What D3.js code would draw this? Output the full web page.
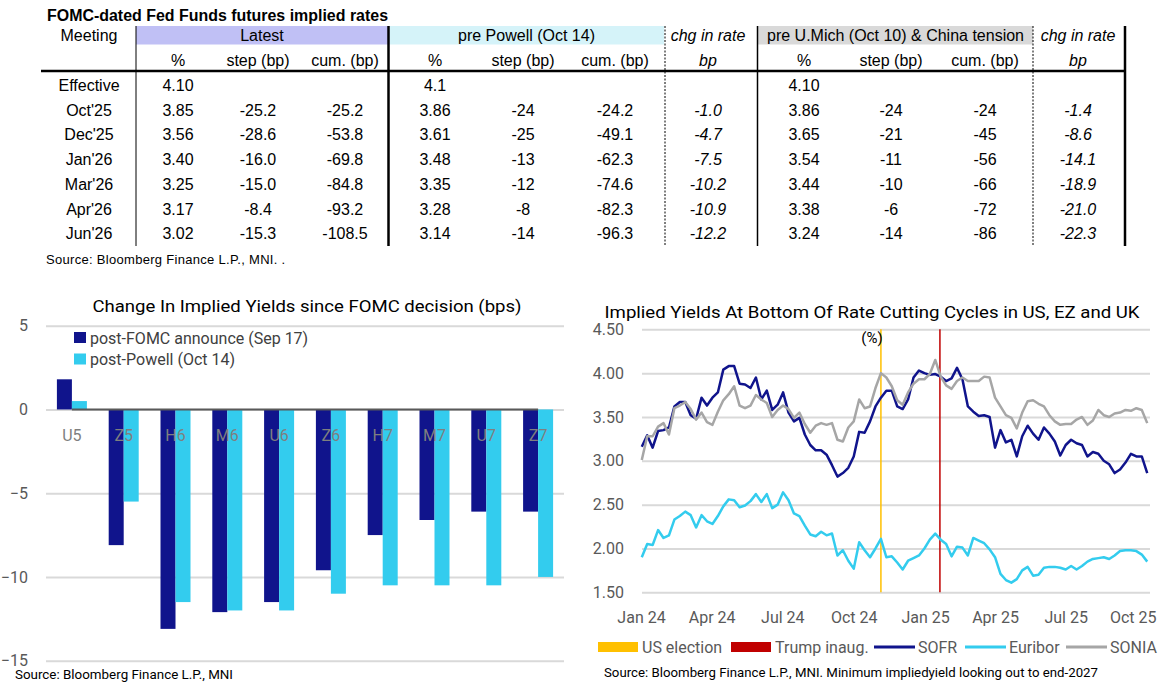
<!DOCTYPE html>
<html>
<head>
<meta charset="utf-8">
<script src="https://cdn.jsdelivr.net/npm/d3@7"></script>
<style>
  body { margin: 0; background: #fff; }
  svg text { font-family: Roboto, "Noto Sans", sans-serif; }
  .tbl text { font-family: "Liberation Sans", Arial, sans-serif; font-size: 16px; fill: #000; }
</style>
</head>
<body>
<svg id="chart" width="1158" height="685"></svg>
<script>
//=======
// Data
//=======

// table
var meetings = ["Effective", "Oct'25", "Dec'25", "Jan'26", "Mar'26", "Apr'26", "Jun'26"];
var latestPct  = ["4.10", "3.85", "3.56", "3.40", "3.25", "3.17", "3.02"];
var latestStep = ["", "-25.2", "-28.6", "-16.0", "-15.0", "-8.4", "-15.3"];
var latestCum  = ["", "-25.2", "-53.8", "-69.8", "-84.8", "-93.2", "-108.5"];
var powellPct  = ["4.1", "3.86", "3.61", "3.48", "3.35", "3.28", "3.14"];
var powellStep = ["", "-24", "-25", "-13", "-12", "-8", "-14"];
var powellCum  = ["", "-24.2", "-49.1", "-62.3", "-74.6", "-82.3", "-96.3"];
var powellChg  = ["", "-1.0", "-4.7", "-7.5", "-10.2", "-10.9", "-12.2"];
var michPct    = ["4.10", "3.86", "3.65", "3.54", "3.44", "3.38", "3.24"];
var michStep   = ["", "-24", "-21", "-11", "-10", "-6", "-14"];
var michCum    = ["", "-24", "-45", "-56", "-66", "-72", "-86"];
var michChg    = ["", "-1.4", "-8.6", "-14.1", "-18.9", "-21.0", "-22.3"];

// bar chart (bps)
var contracts = ["U5", "Z5", "H6", "M6", "U6", "Z6", "H7", "M7", "U7", "Z7"];
var postFomc   = [1.8, -8.1, -13.1, -12.1, -11.5, -9.6, -7.5, -6.6, -6.1, -6.1];
var postPowell = [0.5, -5.5, -11.5, -12.0, -12.0, -11.0, -10.5, -10.5, -10.5, -10.0];

// line chart (%), weekly readings
var dates = [
  "2024-01-02","2024-01-09","2024-01-16","2024-01-23","2024-01-30","2024-02-06","2024-02-13","2024-02-20","2024-02-27",
  "2024-03-05","2024-03-12","2024-03-19","2024-03-26","2024-04-02","2024-04-09","2024-04-16","2024-04-23","2024-04-30",
  "2024-05-07","2024-05-14","2024-05-21","2024-05-28","2024-06-04","2024-06-11","2024-06-18","2024-06-25","2024-07-02",
  "2024-07-09","2024-07-16","2024-07-23","2024-07-30","2024-08-06","2024-08-13","2024-08-20","2024-08-27","2024-09-03",
  "2024-09-10","2024-09-17","2024-09-24","2024-10-01","2024-10-08","2024-10-15","2024-10-22","2024-10-29","2024-11-05",
  "2024-11-12","2024-11-19","2024-11-26","2024-12-03","2024-12-10","2024-12-17","2024-12-24","2024-12-31",
  "2025-01-07","2025-01-14","2025-01-21","2025-01-28","2025-02-04","2025-02-11","2025-02-18","2025-02-25","2025-03-04",
  "2025-03-11","2025-03-18","2025-03-25","2025-04-01","2025-04-08","2025-04-15","2025-04-22","2025-04-29","2025-05-06",
  "2025-05-13","2025-05-20","2025-05-27","2025-06-03","2025-06-10","2025-06-17","2025-06-24","2025-07-01","2025-07-08",
  "2025-07-15","2025-07-22","2025-07-29","2025-08-05","2025-08-12","2025-08-19","2025-08-26","2025-09-02","2025-09-09",
  "2025-09-16","2025-09-23","2025-09-30","2025-10-07","2025-10-14"
];
var sofr = [
  3.16,3.29,3.15,3.34,3.35,3.38,3.62,3.67,3.67,3.52,3.48,3.72,3.63,3.72,3.78,4.04,4.08,4.08,
  3.88,3.87,3.83,3.95,3.70,3.80,3.58,3.64,3.78,3.55,3.45,3.49,3.30,3.18,3.12,3.12,3.07,2.95,
  2.82,2.86,2.92,3.05,3.33,3.32,3.45,3.62,3.72,3.80,3.80,3.62,3.59,3.70,3.95,4.03,4.00,
  3.98,3.99,3.96,3.91,3.94,4.06,3.93,3.62,3.56,3.51,3.52,3.50,3.15,3.35,3.21,3.24,3.05,3.28,
  3.40,3.31,3.24,3.38,3.31,3.22,3.06,3.18,3.24,3.20,3.18,3.05,3.10,3.08,3.00,2.96,2.86,2.90,
  2.98,3.08,3.05,3.05,2.86
];
var euribor = [
  1.90,2.05,2.04,2.21,2.12,2.15,2.33,2.37,2.42,2.38,2.24,2.38,2.31,2.28,2.37,2.48,2.56,2.55,
  2.47,2.49,2.54,2.62,2.53,2.62,2.46,2.50,2.64,2.55,2.40,2.37,2.26,2.16,2.14,2.19,2.15,2.17,
  1.92,1.98,1.86,1.77,2.07,1.98,1.90,2.00,2.11,1.90,1.91,1.84,1.76,1.86,1.89,1.92,2.00,
  2.10,2.17,2.10,2.05,1.91,2.02,2.01,1.92,2.12,2.09,2.06,1.99,1.90,1.71,1.64,1.61,1.65,1.75,
  1.79,1.69,1.70,1.78,1.79,1.79,1.78,1.76,1.80,1.76,1.80,1.85,1.88,1.89,1.90,1.88,1.92,1.97,
  1.98,1.98,1.97,1.93,1.85
];
var sonia = [
  3.01,3.28,3.28,3.39,3.43,3.30,3.60,3.63,3.67,3.59,3.47,3.55,3.44,3.41,3.56,3.69,3.76,3.85,
  3.63,3.60,3.63,3.75,3.70,3.66,3.50,3.58,3.63,3.59,3.49,3.55,3.42,3.32,3.40,3.43,3.41,3.43,
  3.24,3.22,3.38,3.45,3.70,3.60,3.62,3.83,4.00,3.95,3.85,3.69,3.64,3.78,3.88,3.93,3.93,
  3.99,4.15,3.96,3.86,3.82,3.91,3.95,3.91,3.91,3.91,3.96,3.95,3.72,3.62,3.52,3.49,3.37,3.55,
  3.68,3.69,3.65,3.62,3.52,3.45,3.41,3.42,3.42,3.47,3.50,3.41,3.46,3.58,3.52,3.50,3.54,3.55,
  3.58,3.57,3.60,3.58,3.43
];
var usElection = "2024-11-05";
var trumpInaug = "2025-01-20";

var navy = '#10148c', cyan = '#33ccee', grey = '#a6a6a6';

var svg = d3.select('#chart');
var parse = d3.timeParse('%Y-%m-%d');

//========
// Table
//========

var tbl = svg.append('g').attr('class', 'tbl');

tbl.append('text')
  .attr('x', 47).attr('y', 15).attr('dy', '0.35em')
  .style('font-weight', 'bold')
  .attr('textLength', 341).attr('lengthAdjust', 'spacingAndGlyphs')
  .text('FOMC-dated Fed Funds futures implied rates');

// header shading
var bands = [
  { x0: 136, x1: 388, fill: '#c0c0f5', label: 'Latest' },
  { x0: 389, x1: 664, fill: '#d5f3f9', label: 'pre Powell (Oct 14)' },
  { x0: 758, x1: 1033, fill: '#d9d9d9', label: 'pre U.Mich (Oct 10) & China tension' }
];
tbl.selectAll('rect.band').data(bands).enter().append('rect')
  .attr('x', function(d) { return d.x0; })
  .attr('y', 26)
  .attr('width', function(d) { return d.x1 - d.x0; })
  .attr('height', 18.5)
  .attr('fill', function(d) { return d.fill; });

tbl.selectAll('text.band').data(bands).enter().append('text')
  .attr('x', function(d) { return (d.x0 + d.x1) / 2; })
  .attr('y', 35).attr('dy', '0.35em')
  .attr('text-anchor', 'middle')
  .text(function(d) { return d.label; });

tbl.append('text').attr('x', 89).attr('y', 35).attr('dy', '0.35em')
  .attr('text-anchor', 'middle').text('Meeting');

var columns = [
  { x: 178, head: '%', vals: latestPct },
  { x: 258, head: 'step (bp)', vals: latestStep },
  { x: 345, head: 'cum. (bp)', vals: latestCum },
  { x: 435, head: '%', vals: powellPct },
  { x: 523, head: 'step (bp)', vals: powellStep },
  { x: 615, head: 'cum. (bp)', vals: powellCum },
  { x: 708, head: 'bp', vals: powellChg, italic: true, top: 'chg in rate' },
  { x: 804, head: '%', vals: michPct },
  { x: 891, head: 'step (bp)', vals: michStep },
  { x: 985, head: 'cum. (bp)', vals: michCum },
  { x: 1078, head: 'bp', vals: michChg, italic: true, top: 'chg in rate' }
];

var rowY = d3.scaleBand().domain(meetings).range([73, 246]);

columns.forEach(function(c) {
  if (c.top) {
    tbl.append('text').attr('x', c.x).attr('y', 35).attr('dy', '0.35em')
      .attr('text-anchor', 'middle').style('font-style', 'italic').text(c.top);
  }
  tbl.append('text').attr('x', c.x).attr('y', 60).attr('dy', '0.35em')
    .attr('text-anchor', 'middle')
    .style('font-style', c.italic ? 'italic' : null)
    .text(c.head);

  tbl.selectAll(null).data(c.vals).enter().append('text')
    .attr('x', c.x)
    .attr('y', function(d, i) { return rowY(meetings[i]) + rowY.bandwidth() / 2; })
    .attr('dy', '0.35em')
    .attr('text-anchor', 'middle')
    .style('font-style', c.italic ? 'italic' : null)
    .text(function(d) { return d; });
});

tbl.selectAll('text.meet').data(meetings).enter().append('text')
  .attr('x', 89)
  .attr('y', function(d) { return rowY(d) + rowY.bandwidth() / 2; })
  .attr('dy', '0.35em')
  .attr('text-anchor', 'middle')
  .text(function(d) { return d; });

// rules
var vrules = [
  { x: 136, w: 1 }, { x: 388.5, w: 2.5 }, { x: 665, w: 1, dash: '2,1.5' },
  { x: 757.5, w: 1.5 }, { x: 1033, w: 1, dash: '2,1.5' }, { x: 1125, w: 2.5 }
];
tbl.selectAll('line.v').data(vrules).enter().append('line')
  .attr('x1', function(d) { return d.x; }).attr('x2', function(d) { return d.x; })
  .attr('y1', 26).attr('y2', 246)
  .attr('stroke', '#000')
  .attr('stroke-width', function(d) { return d.w; })
  .attr('stroke-dasharray', function(d) { return d.dash || null; });

tbl.append('line').attr('x1', 41).attr('x2', 1126).attr('y1', 71).attr('y2', 71)
  .attr('stroke', '#000').attr('stroke-width', 2.5);

tbl.append('text').attr('x', 46).attr('y', 259).attr('dy', '0.35em')
  .style('font-size', '13px').style('letter-spacing', '0.3px')
  .text('Source: Bloomberg Finance L.P., MNI. .');

//============
// Bar chart
//============

var bar = svg.append('g');
var bx = d3.scaleBand().domain(contracts).range([46, 564]);
var by = d3.scaleLinear().domain([-15, 5]).range([660.7, 325.7]);
var bw = 15;

bar.append('text')
  .attr('x', 307).attr('y', 306).attr('dy', '0.35em')
  .attr('text-anchor', 'middle')
  .style('font-size', '17px').attr('fill', '#000')
  .attr('textLength', 429).attr('lengthAdjust', 'spacingAndGlyphs')
  .text('Change In Implied Yields since FOMC decision (bps)');

var yAxisBar = bar.append('g')
  .attr('transform', 'translate(46,0)')
  .call(d3.axisLeft(by).tickValues([-15, -10, -5, 0, 5]).tickSize(-518).tickPadding(18));
yAxisBar.select('.domain').remove();
yAxisBar.selectAll('line').attr('stroke', '#d9d9d9').attr('stroke-width', 2);
yAxisBar.selectAll('text').style('font-size', '16px').attr('fill', '#595959')
  .style('font-family', 'Roboto, sans-serif');

bar.selectAll('rect.fomc').data(postFomc).enter().append('rect')
  .attr('x', function(d, i) { return bx(contracts[i]) + bx.bandwidth() / 2 - bw; })
  .attr('y', function(d) { return by(Math.max(0, d)); })
  .attr('width', bw)
  .attr('height', function(d) { return Math.abs(by(d) - by(0)); })
  .attr('fill', navy);

bar.selectAll('rect.powell').data(postPowell).enter().append('rect')
  .attr('x', function(d, i) { return bx(contracts[i]) + bx.bandwidth() / 2; })
  .attr('y', function(d) { return by(Math.max(0, d)); })
  .attr('width', bw)
  .attr('height', function(d) { return Math.abs(by(d) - by(0)); })
  .attr('fill', cyan);

// category axis line
bar.append('line')
  .attr('x1', bx(contracts[0]) + bx.bandwidth() / 2)
  .attr('x2', bx(contracts[contracts.length - 1]) + bx.bandwidth() / 2)
  .attr('y1', by(0)).attr('y2', by(0))
  .attr('stroke', '#595959').attr('stroke-width', 2);

bar.selectAll('text.cat').data(contracts).enter().append('text')
  .attr('x', function(d) { return bx(d) + bx.bandwidth() / 2; })
  .attr('y', 435).attr('dy', '0.35em')
  .attr('text-anchor', 'middle')
  .style('font-size', '16px').attr('fill', '#7f7f7f')
  .text(function(d) { return d; });

var barLegend = [
  { label: 'post-FOMC announce (Sep 17)', color: navy },
  { label: 'post-Powell (Oct 14)', color: cyan }
];
barLegend.forEach(function(l, i) {
  bar.append('rect').attr('x', 74).attr('y', 332 + i * 21.5).attr('width', 12).attr('height', 11)
    .attr('fill', l.color);
  bar.append('text').attr('x', 90).attr('y', 338 + i * 21.5).attr('dy', '0.35em')
    .style('font-size', '16px').attr('fill', '#404040').text(l.label);
});

bar.append('text').attr('x', 15).attr('y', 674).attr('dy', '0.35em')
  .style('font-size', '13px').attr('fill', '#000')
  .attr('textLength', 218).attr('lengthAdjust', 'spacingAndGlyphs')
  .text('Source: Bloomberg Finance L.P., MNI');

//=============
// Line chart
//=============

var lc = svg.append('g');
var lx = d3.scaleTime().domain([parse('2024-01-01'), parse('2025-10-15')]).range([641, 1148]);
var ly = d3.scaleLinear().domain([1.5, 4.5]).range([592.3, 329.3]);

lc.append('text')
  .attr('x', 872).attr('y', 312).attr('dy', '0.35em')
  .attr('text-anchor', 'middle')
  .style('font-size', '17px').attr('fill', '#000')
  .attr('textLength', 535).attr('lengthAdjust', 'spacingAndGlyphs')
  .text('Implied Yields At Bottom Of Rate Cutting Cycles in US, EZ and UK');

var yAxisLine = lc.append('g')
  .attr('transform', 'translate(642,0)')
  .call(d3.axisLeft(ly).tickValues([1.5, 2, 2.5, 3, 3.5, 4, 4.5]).tickFormat(d3.format('.2f'))
    .tickSize(-508).tickPadding(18));
yAxisLine.select('.domain').remove();
yAxisLine.selectAll('line').attr('stroke', '#d9d9d9').attr('stroke-width', 2);
yAxisLine.selectAll('text').style('font-size', '16px').attr('fill', '#595959')
  .style('font-family', 'Roboto, sans-serif');

var xAxisLine = lc.append('g')
  .attr('transform', 'translate(0,592.3)')
  .call(d3.axisBottom(lx).ticks(d3.timeMonth.every(3)).tickFormat(d3.timeFormat('%b %y'))
    .tickSize(0).tickPadding(19));
xAxisLine.select('.domain').remove();
xAxisLine.selectAll('text').style('font-size', '16px').attr('fill', '#595959')
  .style('font-family', 'Roboto, sans-serif');
// keep the last label inside the page
xAxisLine.selectAll('.tick text')
  .filter(function(d, i, n) { return i === n.length - 1; })
  .attr('text-anchor', 'end')
  .attr('x', function(d) { return 1156 - lx(d); });

// event markers
[{ d: usElection, c: '#ffc000' }, { d: trumpInaug, c: '#c00000' }].forEach(function(m) {
  lc.append('line')
    .attr('x1', lx(parse(m.d))).attr('x2', lx(parse(m.d)))
    .attr('y1', ly(4.5)).attr('y2', ly(1.5))
    .attr('stroke', m.c).attr('stroke-width', 1.5);
});

var line = d3.line()
  .x(function(d, i) { return lx(parse(dates[i])); })
  .y(function(d) { return ly(d); });

[{ v: sofr, c: navy }, { v: euribor, c: cyan }, { v: sonia, c: grey }].forEach(function(s) {
  lc.append('path')
    .attr('d', line(s.v))
    .attr('fill', 'none')
    .attr('stroke', s.c)
    .attr('stroke-width', 2.5)
    .attr('stroke-linejoin', 'round');
});

lc.append('text').attr('x', 872).attr('y', 338).attr('dy', '0.35em')
  .attr('text-anchor', 'middle').style('font-size', '15px').attr('fill', '#000').text('(%)');

// legend
var lineLegend = [
  { label: 'US election', color: '#ffc000', x: 598, type: 'rect' },
  { label: 'Trump inaug.', color: '#c00000', x: 731, type: 'rect' },
  { label: 'SOFR', color: navy, x: 874, type: 'line' },
  { label: 'Euribor', color: cyan, x: 965, type: 'line' },
  { label: 'SONIA', color: grey, x: 1066, type: 'line' }
];
lineLegend.forEach(function(l) {
  if (l.type === 'rect') {
    lc.append('rect').attr('x', l.x).attr('y', 642).attr('width', 40).attr('height', 10).attr('fill', l.color);
  } else {
    lc.append('line').attr('x1', l.x).attr('x2', l.x + 41).attr('y1', 647).attr('y2', 647)
      .attr('stroke', l.color).attr('stroke-width', 3);
  }
  lc.append('text').attr('x', l.x + 44).attr('y', 647).attr('dy', '0.35em')
    .style('font-size', '16px').attr('fill', '#595959').text(l.label);
});

lc.append('text').attr('x', 604).attr('y', 672).attr('dy', '0.35em')
  .style('font-size', '13px').attr('fill', '#000')
  .attr('textLength', 494).attr('lengthAdjust', 'spacingAndGlyphs')
  .text('Source: Bloomberg Finance L.P., MNI. Minimum impliedyield looking out to end-2027');
</script>
</body>
</html>
